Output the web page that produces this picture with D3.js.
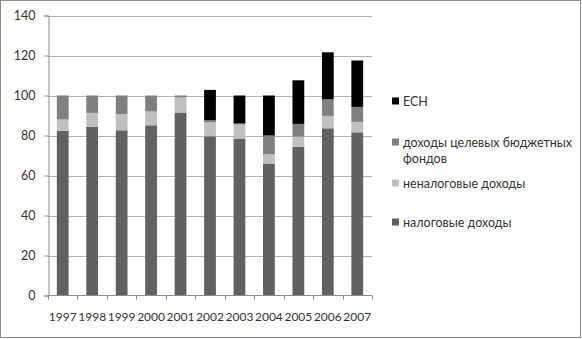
<!DOCTYPE html>
<html><head><meta charset="utf-8">
<script src="https://cdn.jsdelivr.net/npm/d3@7"></script>
<style>body{margin:0;background:#fff}svg{display:block}text{font-family:Lato,"Open Sans",sans-serif;fill:#333}</style>
</head><body><svg id="c" width="582" height="339"></svg>
<script>
const years = ["1997","1998","1999","2000","2001","2002","2003","2004","2005","2006","2007"];
const taxIncome = [82.3,84.3,82.6,85.1,91.5,79.6,78.5,66.0,74.3,83.6,81.6];
const nonTaxIncome = [5.7,7.0,8.0,6.9,7.5,7.0,7.0,4.6,5.2,6.2,5.2];
const targetFunds = [12.0,8.7,9.4,8.0,1.0,1.0,0.5,9.4,6.3,8.3,7.5];
const esn = [0,0,0,0,0,15.2,14.0,20.0,21.8,23.5,23.2];
const seriesNames = ["налоговые доходы","неналоговые доходы","доходы целевых бюджетных фондов","ЕСН"];
const seriesColors = ["#616161","#c0c0c0","#808080","#000000"];
const yTicks = [0,20,40,60,80,100,120,140];

const svg = d3.select("#c");
svg.append("rect").attr("x",0.5).attr("y",0.5).attr("width",580).attr("height",337)
  .attr("fill","none").attr("stroke","#8c8c8c");

const x = d3.scaleBand().domain(years).range([48,372]).paddingInner(0.6).paddingOuter(0.3);
const xTickScale = d3.scaleBand().domain(years).range([48,372]);
const y = d3.scaleLinear().domain([0,140]).range([295.5,15.5]);

// gridlines
svg.append("g").selectAll("line").data(yTicks.filter(d=>d>0)).join("line")
  .attr("x1",48).attr("x2",372).attr("y1",d=>Math.round(y(d))+0.5).attr("y2",d=>Math.round(y(d))+0.5)
  .attr("stroke","#b3b3b3");

const rows = years.map((yr,i)=>({year:yr, s0:taxIncome[i], s1:nonTaxIncome[i], s2:targetFunds[i], s3:esn[i]}));
const stack = d3.stack().keys(["s0","s1","s2","s3"])(rows);
svg.append("g").selectAll("g").data(stack).join("g").attr("fill",(d,i)=>seriesColors[i])
  .selectAll("rect").data(d=>d).join("rect")
  .attr("x",d=>x(d.data.year)).attr("width",x.bandwidth())
  .attr("y",d=>y(d[1])).attr("height",d=>Math.max(0,y(d[0])-y(d[1])));

// y axis
const yAxis = svg.append("g").attr("transform","translate(48.5,0)")
  .call(d3.axisLeft(y).tickValues(yTicks).tickSize(4).tickPadding(9));
yAxis.select(".domain").attr("stroke","#8c8c8c");
yAxis.selectAll(".tick line").attr("stroke","#8c8c8c");
yAxis.selectAll("text").attr("font-size",12.5).style("fill","#333").style("font-family","Lato");

// x axis
const xg = svg.append("g").attr("transform","translate(0,295.5)");
xg.append("line").attr("x1",48).attr("x2",372).attr("stroke","#8c8c8c");
const tickPos = years.map(d=>xTickScale(d)).concat([372]);
xg.selectAll("line.t").data(tickPos).join("line").attr("class","t")
  .attr("x1",d=>Math.round(d)+0.5).attr("x2",d=>Math.round(d)+0.5).attr("y1",0).attr("y2",4).attr("stroke","#8c8c8c");
xg.selectAll("text").data(years).join("text")
  .attr("x",d=>xTickScale(d)+xTickScale.bandwidth()/2).attr("y",25)
  .attr("text-anchor","middle").attr("font-size",12).text(d=>d);

// legend
const legendItems = [
  {i:3, y:101, lines:["ЕСН"]},
  {i:2, y:142, lines:["доходы целевых бюджетных","фондов"]},
  {i:1, y:183, lines:["неналоговые доходы"]},
  {i:0, y:222, lines:["налоговые доходы"]}
];
const lg = svg.append("g");
legendItems.forEach(it=>{
  lg.append("rect").attr("x",392).attr("y",it.y-3.5).attr("width",7).attr("height",7).attr("fill",seriesColors[it.i]);
  it.lines.forEach((t,k)=>{
    lg.append("text").attr("x",403).attr("y",it.y+4.5+k*16.5).attr("font-size",12.5).text(t);
  });
});
</script></body></html>
